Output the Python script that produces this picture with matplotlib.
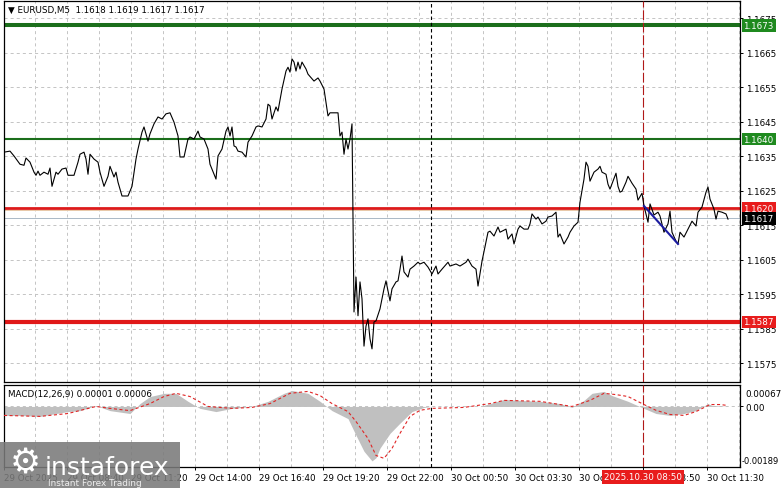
import matplotlib
matplotlib.use("Agg")
import matplotlib.pyplot as plt
from matplotlib.patches import Rectangle

plt.rcParams['lines.scale_dashes'] = False
plt.rcParams['font.family'] = ['DejaVu Sans']

# ---------------- data ----------------
price_bar = [0,3,5,8,10,11,13,15,16,17,
             18,20,22,23,24,26,27,29,31,32,
             35,37,38,40,41,42,43,45,47,48,
             50,52,53,55,56,57,59,62,64,66,
             67,69,70,72,73,75,77,79,81,83,
             85,87,88,90,92,93,95,97,98,100,
             102,103,106,107,109,111,112,113,114,115,
             116,117,119,121,122,124,126,127,129,131,
             132,133,134,136,137,139,141,142,143,144,
             145,146,147,148,149,151,152,155,157,158,
             160,162,163,167,168,169,170,171,172,173,
             174,175,176,177,178,179,180,181,182,183,
             184,185,186,188,190,191,193,194,196,197,
             198,199,200,202,203,205,207,208,210,212,
             214,216,217,219,222,223,226,228,231,232,
             234,236,237,239,242,243,245,247,248,251,
             252,254,255,257,258,260,262,263,264,266,
             267,269,271,272,274,276,277,278,280,282,
             283,285,287,288,290,291,292,293,295,297,
             298,299,301,302,303,306,307,308,309,311,
             312,314,316,317,319,320,322,323,325,327,
             328,330,332,333,334,336,337,338,340,342,
             344,346,347,349,351,352,353,355,356,357,
             359,361,362]
price_val = [1.16362,1.16365,1.16351,1.16327,1.16324,1.16345,1.16333,1.16304,1.16295,1.16307,
             1.16295,1.16304,1.16298,1.16316,1.16263,1.16304,1.16298,1.16313,1.16316,1.16295,
             1.16295,1.16333,1.16356,1.16362,1.16342,1.16298,1.16356,1.16342,1.16333,1.16304,
             1.16263,1.16292,1.16321,1.16290,1.16304,1.16275,1.16235,1.16235,1.16263,1.16342,
             1.16371,1.16420,1.16435,1.16394,1.16415,1.16444,1.16464,1.16458,1.16473,1.16476,
             1.16449,1.16409,1.16348,1.16348,1.16400,1.16406,1.16400,1.16423,1.16406,1.16400,
             1.16371,1.16327,1.16284,1.16351,1.16371,1.16423,1.16435,1.16409,1.16435,1.16380,
             1.16377,1.16365,1.16362,1.16348,1.16391,1.16409,1.16435,1.16438,1.16435,1.16458,
             1.16501,1.16496,1.16458,1.16493,1.16481,1.16545,1.16597,1.16608,1.16594,1.16632,
             1.16623,1.16597,1.16623,1.16603,1.16623,1.16603,1.16588,1.16568,1.16577,1.16568,
             1.16545,1.16467,1.16476,1.16476,1.16409,1.16420,1.16356,1.16400,1.16371,1.16400,
             1.16444,1.15899,1.16000,1.15888,1.15986,1.15937,1.15800,1.15858,1.15879,1.15821,
             1.15792,1.15870,1.15873,1.15908,1.15966,1.15989,1.15931,1.15966,1.15986,1.15989,
             1.16023,1.16061,1.16015,1.16000,1.16023,1.16032,1.16043,1.16038,1.16043,1.16029,
             1.16009,1.16032,1.16009,1.16023,1.16043,1.16032,1.16038,1.16032,1.16043,1.16052,
             1.16032,1.16023,1.15974,1.16046,1.16130,1.16133,1.16119,1.16145,1.16130,1.16139,
             1.16110,1.16125,1.16096,1.16139,1.16148,1.16139,1.16139,1.16154,1.16183,1.16168,
             1.16174,1.16154,1.16162,1.16174,1.16177,1.16188,1.16116,1.16125,1.16096,1.16116,
             1.16130,1.16148,1.16159,1.16217,1.16284,1.16333,1.16321,1.16278,1.16304,1.16313,
             1.16321,1.16304,1.16298,1.16269,1.16255,1.16301,1.16263,1.16246,1.16249,1.16275,
             1.16292,1.16272,1.16255,1.16223,1.16243,1.16206,1.16159,1.16212,1.16180,1.16188,
             1.16177,1.16130,1.16154,1.16191,1.16130,1.16104,1.16096,1.16130,1.16116,1.16139,
             1.16162,1.16148,1.16188,1.16203,1.16246,1.16261,1.16226,1.16197,1.16168,1.16191,
             1.16188,1.16183,1.16168]

macd_bar = [0,8,18,26,32,38,46,53,63,68,
            73,80,86,92,98,106,114,124,132,140,
            144,152,158,164,172,176,180,184,186,188,
            193,198,204,210,214,230,238,243,250,258,
            268,278,284,290,294,300,304,312,320,326,
            333,340,346,352,354,362]
macd_val = [-0.00028,-0.00028,-0.00031,-0.00022,-0.00016,-0.00013,0.00003,-0.00013,-0.00022,0.00009,
            0.00031,0.00041,0.00041,0.00016,-0.00006,-0.00016,-0.00006,0.0,0.00016,0.00041,
            0.0005,0.00041,0.00016,-0.00013,-0.00038,-0.0009,-0.0014,-0.0017,-0.0016,-0.0013,
            -0.00084,-0.00052,-0.00016,-0.00003,0.0,0.0,0.0,0.00009,0.00022,0.00019,
            0.00016,0.00009,-0.00003,0.00019,0.00041,0.00047,0.00034,0.00016,-0.00006,-0.00022,
            -0.00028,-0.00022,-0.00013,0.00009,0.00003,0.0]

sig_bar = [0,18,32,46,53,63,73,80,86,93,
           102,114,124,133,143,152,158,164,172,176,
           182,186,190,194,198,203,208,214,230,243,
           250,268,284,293,300,306,312,320,326,333,
           340,346,353,358,362]
sig_val = [-0.00028,-0.00031,-0.00022,0.0,-0.00006,-0.00013,0.00009,0.00031,0.00041,0.00031,
           0.0,-0.00006,-0.00003,0.00009,0.00041,0.00047,0.00034,0.00009,-0.00016,-0.00047,
           -0.001,-0.00153,-0.00162,-0.00131,-0.00084,-0.00031,-0.00012,-0.00006,-0.00003,0.00009,
           0.00019,0.00016,0.0,0.00019,0.00041,0.00037,0.00031,0.00006,-0.00012,-0.00025,
           -0.00028,-0.00016,0.00006,0.00006,0.00003]

trend_bar = [320, 337]
trend_val = [1.16206, 1.16096]

price_ticks = [1.1575, 1.1585, 1.1595, 1.1605, 1.1615, 1.1625, 1.1635, 1.1645, 1.1655, 1.1665, 1.1675]
levels_green = [1.1673, 1.1640]
levels_red = [1.1620, 1.1587]
last_price = 1.1617
ask_price = 1.16193

time_pos = [0, 31.5, 63.5, 95.5, 127.5, 159.5, 191.5, 223.5, 255.5, 287.5, 319.5, 351.5]
time_lab = ["29 Oct 2025", "29 Oct 08:40", "29 Oct 11:20", "29 Oct 14:00", "29 Oct 16:40",
            "29 Oct 19:20", "29 Oct 22:00", "30 Oct 00:50", "30 Oct 03:30", "30 Oct 06:10",
            "30 Oct 08:50", "30 Oct 11:30"]
grid_x = [15.5 + 16 * k for k in range(23)]
day_sep = 213.5
cursor_bar = 319.5
cursor_label = "2025.10.30 08:50"

price_lim = (1.15696, 1.16800)
macd_lim = (-0.00189, 0.00067)
bar_lim = (0, 368)

header = "\u25bc EURUSD,M5  1.1618 1.1619 1.1617 1.1617"
macd_title = "MACD(12,26,9) 0.00001 0.00006"

# ---------------- figure ----------------
W, H = 781, 489
fig = plt.figure(figsize=(W / 100, H / 100), dpi=100)
fig.patch.set_facecolor('white')

def rect(l, t, r, b):
    return [l / W, 1 - b / H, (r - l) / W, (b - t) / H]

ax = fig.add_axes(rect(4, 2, 740, 383))
mx = fig.add_axes(rect(4, 386, 740, 468))

FS = 6.3
GRID = dict(color='#c4c4c4', linestyle=(0, (2.2, 2.2)), linewidth=0.7)

for a in (ax, mx):
    a.set_xlim(*bar_lim)
    for s in a.spines.values():
        s.set_linewidth(0.9)
        s.set_color('black')
    for gx in grid_x:
        a.axvline(gx, zorder=0, **GRID)

ax.set_ylim(*price_lim)
mx.set_ylim(*macd_lim)

# price grid + ticks
for p in price_ticks:
    ax.axhline(p, zorder=0, **GRID)
ax.set_yticks(price_ticks)
ax.set_yticklabels([f"{p:.4f}" for p in price_ticks], fontsize=FS)
ax.yaxis.tick_right()
ax.tick_params(axis='y', direction='out', length=2.5, width=0.7, pad=1.5)
ax.set_xticks([])

# level lines
ax.axhline(levels_green[0], color='#1b6e1b', lw=2.9, zorder=2)
ax.axhline(levels_green[1], color='#1b6e1b', lw=1.5, zorder=2)
ax.axhline(ask_price, color='#e8c8a8', lw=0.7, zorder=1)
ax.axhline(last_price, color='#aab8c6', lw=0.7, zorder=1)
ax.axhline(levels_red[0], color='#dd1a1a', lw=2.0, zorder=2)
ax.axhline(levels_red[1], color='#e01818', lw=3.0, zorder=2)

# vertical markers
for a in (ax, mx):
    a.axvline(day_sep, color='black', lw=0.8, linestyle=(0, (2.5, 2)), zorder=3)
    a.axvline(cursor_bar, color='#b01818', lw=0.8, linestyle=(0, (7, 2)), zorder=3)

# price line
ax.plot(price_bar, price_val, color='black', lw=0.8, zorder=4)
ax.plot(trend_bar, trend_val, color='#1c1ca0', lw=1.5, zorder=5)

# right labels
xo = 1 + 3.5 / 736
def plabel(v, txt, fc):
    ax.text(xo, v, txt, transform=ax.get_yaxis_transform(), fontsize=FS, color='white',
            ha='left', va='center', zorder=10, clip_on=False,
            bbox=dict(boxstyle='square,pad=0.22', fc=fc, ec='none'))
plabel(levels_green[0], "1.1673", '#1f8a1f')
plabel(levels_green[1], "1.1640", '#1f8a1f')
plabel(levels_red[0], "1.1620", '#e81c1c')
plabel(last_price, "1.1617", 'black')
plabel(levels_red[1], "1.1587", '#e81c1c')

ax.text((8 - 4) / 736, 1 - (10 - 2) / 381, header, transform=ax.transAxes,
        fontsize=FS, ha='left', va='center', color='black')

# ---------------- MACD ----------------
mx.axhline(0, zorder=0, **GRID)
mx.fill_between(macd_bar, 0, macd_val, color='#c0c0c0', lw=0, zorder=1)
mx.plot(sig_bar, sig_val, color='#e02424', lw=0.8, linestyle=(0, (2.2, 1.8)), zorder=4)
mx.set_yticks([0.0])
mx.set_yticklabels(["0.00"], fontsize=FS)
mx.yaxis.tick_right()
mx.tick_params(axis='y', direction='out', length=2.5, width=0.7, pad=1.5)
mx.annotate("0.00067", xy=(1, macd_lim[1]), xycoords=('axes fraction', 'data'),
            xytext=(4.0, -5.8), textcoords='offset points', fontsize=FS, va='center', ha='left')
mx.annotate("-0.00189", xy=(1, macd_lim[0]), xycoords=('axes fraction', 'data'),
            xytext=(0.8, 5.0), textcoords='offset points', fontsize=6.0, va='center', ha='left')
mx.text((8 - 4) / 736, 1 - (395 - 386) / 82, macd_title, transform=mx.transAxes,
        fontsize=FS, ha='left', va='center')

mx.set_xticks(time_pos)
mx.set_xticklabels(time_lab, fontsize=FS)
for lab in mx.get_xticklabels():
    lab.set_ha('left')
mx.tick_params(axis='x', direction='out', length=2.2, width=0.7, pad=2.2)

mx.text(cursor_bar, -0.12, cursor_label, transform=mx.get_xaxis_transform(),
        fontsize=FS, color='white', ha='center', va='center', zorder=12, clip_on=False,
        bbox=dict(boxstyle='square,pad=0.25', fc='#e81c1c', ec='none'))

# ---------------- watermark ----------------
fig.patches.append(Rectangle((0, 0), 180 / W, 46 / H, transform=fig.transFigure,
                             fc='#7a7a7a', ec='none', alpha=0.88, zorder=20))
fig.text(25 / W, 1 - 464 / H, "\u2699", fontsize=25, color='white', ha='center', va='center', zorder=21)
fig.text(45 / W, 1 - 475 / H, "instaforex", fontsize=18, color='white', ha='left',
         va='baseline', zorder=21)
fig.text(48 / W, 1 - 484 / H, "Instant Forex Trading", fontsize=6.4, color='#eeeeee',
         ha='left', va='center', zorder=21)

fig.savefig("out.png", dpi=100)
